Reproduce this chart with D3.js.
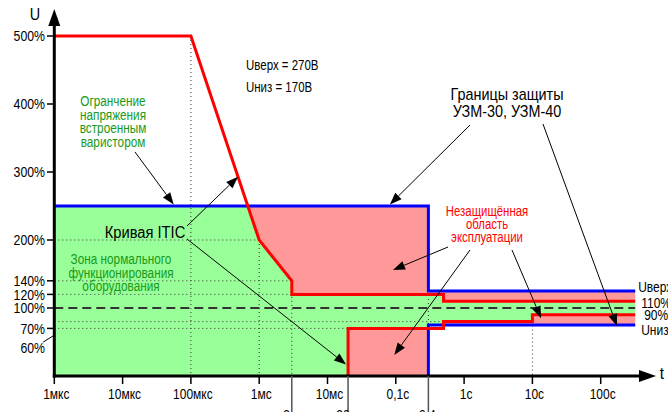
<!DOCTYPE html>
<html><head><meta charset="utf-8">
<script src="https://cdn.jsdelivr.net/npm/d3@7"></script>
<style>
body{margin:0;background:#fff}
svg{display:block}
text{font-family:"Liberation Sans","Arial",sans-serif}
</style>
</head><body>
<svg id="chart" width="668" height="412"></svg>
<script>
// ---------- data ----------
const decadeTicks  = [1e-6, 1e-5, 1e-4, 1e-3, 1e-2, 1e-1, 1, 10, 100];
const decadeLabels = ["1мкс","10мкс","100мкс","1мс","10мс","0,1с","1с","10с","100с"];
const extraTicks   = [3e-3, 0.02, 0.3];
const extraLabels  = ["3мс","20мс","0,4с"];
const yTicks       = [500, 400, 300, 200, 140, 120, 100, 70, 60];
const yLabels      = ["500%","400%","300%","200%","140%","120%","100%","70%","60%"];

const tStart = 1e-6, tEnd = 320;
// ITIC curve (time, % of nominal)
const iticUpperT = [1e-6, 1e-4, 1e-3, 3e-3, 3e-3, 0.5, 0.5, 320];
const iticUpperV = [500, 500, 200, 140, 120, 120, 110, 110];
const iticLowerT = [0.02, 0.02, 0.5, 0.5, 10, 10, 320];
const iticLowerV = [0, 70, 70, 80, 80, 90, 90];
// UZM-30 / UZM-40 protection limits
const uzmUpperT = [1e-6, 0.3, 0.3, 320];
const uzmUpperV = [250, 250, 125, 125];
const uzmLowerT = [0.3, 0.3, 320];
const uzmLowerV = [0, 75, 75];
const nominal = 100;

// ---------- setup ----------
const svg = d3.select("#chart");
const x = d3.scaleLog().domain([1e-6, 1e3]).range([54.3, 54.3 + 9 * 68.3]);
const y = d3.scaleLinear().domain([0, 500]).range([376, 36]);

const zip = (T, V) => T.map((t, i) => [t, V[i]]);
const iticUp = zip(iticUpperT, iticUpperV);
const iticLo = zip(iticLowerT, iticLowerV);
const uzmUp = zip(uzmUpperT, uzmUpperV);
const uzmLo = zip(uzmLowerT, uzmLowerV);
const line = d3.line().x(d => x(d[0])).y(d => y(d[1]));

const GREEN = "#99ff99", PINK = "#ff9999", RED = "#ff0000", BLUE = "#0000ff", DKGREEN = "#1a9a1a";

// condensed text helper
function txt(parent, tx, ty, str, size, opt = {}) {
  const t = parent.append("text")
    .attr("transform", `translate(${tx},${ty}) scale(${opt.sx || 0.8},1)`)
    .attr("font-size", size)
    .attr("text-anchor", opt.anchor || "start")
    .attr("fill", opt.color || "#000")
    .text(str);
  if (opt.dy) t.attr("dy", opt.dy);
  return t;
}

// envelopes
const uzmEnv = uzmUp.concat(uzmLo.slice().reverse(), [[tStart, 0]]);
const iticEnv = iticUp.concat(iticLo.slice().reverse(), [[tStart, 0]]);

svg.append("defs").append("clipPath").attr("id", "uzmClip")
  .append("path").attr("d", line(uzmEnv) + "Z");

svg.append("path").attr("d", line(uzmEnv) + "Z").attr("fill", PINK);
svg.append("path").attr("d", line(iticEnv) + "Z").attr("fill", GREEN)
  .attr("clip-path", "url(#uzmClip)");

// dotted reference lines
const grid = svg.append("g").attr("stroke", "#333").attr("stroke-width", 1)
  .attr("stroke-dasharray", "1,3").attr("fill", "none");
const vRefs = [[iticUpperT[1], iticUpperV[1]], [iticUpperT[2], iticUpperV[2]],
               [iticUpperT[3], iticUpperV[3]], [iticLowerT[4], iticLowerV[3]]];
vRefs.forEach(([t, v]) => grid.append("line")
  .attr("x1", x(t)).attr("x2", x(t)).attr("y1", y(v)).attr("y2", y(0)));
grid.append("line").attr("x1", x(uzmLowerT[0])).attr("x2", x(uzmLowerT[0]))
  .attr("y1", y(uzmUpperV[2])).attr("y2", y(uzmLowerV[1]));
const hRefs = [[iticUpperT[2], iticUpperV[2]], [iticUpperT[3], iticUpperV[3]],
               [iticUpperT[4], iticUpperV[4]], [iticLowerT[3], iticLowerV[3]],
               [iticLowerT[1], iticLowerV[1]]];
hRefs.forEach(([t, v]) => grid.append("line")
  .attr("x1", x(tStart)).attr("x2", x(t)).attr("y1", y(v)).attr("y2", y(v)));

// nominal dashed
svg.append("line").attr("x1", x(tStart)).attr("x2", x(tEnd))
  .attr("y1", y(nominal)).attr("y2", y(nominal))
  .attr("stroke", "#333").attr("stroke-width", 2).attr("stroke-dasharray", "9,5");

// curves
[uzmUp, uzmLo].forEach(d => svg.append("path").attr("d", line(d))
  .attr("fill", "none").attr("stroke", BLUE).attr("stroke-width", 3));
[iticUp, iticLo].forEach(d => svg.append("path").attr("d", line(d))
  .attr("fill", "none").attr("stroke", RED).attr("stroke-width", 3));

// ---------- axes ----------
const ax = svg.append("g");
const x0 = x(tStart), y0 = y(0);
ax.append("line").attr("x1", x0).attr("x2", x0).attr("y1", y0 + 1.5).attr("y2", 22)
  .attr("stroke", "#000").attr("stroke-width", 3);
ax.append("path").attr("d", `M${x0},9 L${x0 - 6},26 L${x0 + 6},26 Z`).attr("fill", "#000");
ax.append("line").attr("x1", x0 - 1.5).attr("x2", 642).attr("y1", y0).attr("y2", y0)
  .attr("stroke", "#000").attr("stroke-width", 3);
ax.append("path").attr("d", `M656,${y0} L639,${y0 - 6} L639,${y0 + 6} Z`).attr("fill", "#000");
txt(ax, 35, 20, "U", 16, {anchor: "middle", sx: 0.9});
txt(ax, 662, 379, "t", 17, {anchor: "middle", sx: 0.9});

// x ticks
decadeTicks.forEach((t, i) => {
  ax.append("line").attr("x1", x(t)).attr("x2", x(t)).attr("y1", y0).attr("y2", y0 + 8)
    .attr("stroke", "#000").attr("stroke-width", 1.5);
  txt(ax, x(t) + 2, 399, decadeLabels[i], 15, {anchor: "middle", sx: 0.8});
});
extraTicks.forEach((t, i) => {
  ax.append("line").attr("x1", x(t)).attr("x2", x(t)).attr("y1", y0).attr("y2", 412)
    .attr("stroke", "#555").attr("stroke-width", 1.5);
  txt(ax, x(t) + 2, 420, extraLabels[i], 15, {anchor: "middle", sx: 0.8});
});
// y ticks
yTicks.forEach((v, i) => {
  const last = v === 60;
  if (last) {
    ax.append("line").attr("x1", 43).attr("y1", y(v) + 7).attr("x2", x0).attr("y2", y(v))
      .attr("stroke", "#000").attr("stroke-width", 1);
  } else {
    ax.append("line").attr("x1", 47).attr("x2", x0).attr("y1", y(v)).attr("y2", y(v))
      .attr("stroke", "#000").attr("stroke-width", 1.5);
  }
  txt(ax, 45, y(v) + (last ? 12 : 0), yLabels[i], 15, {anchor: "end", dy: "0.36em", sx: 0.82});
});

// ---------- annotations ----------
const an = svg.append("g");
function arrow(x1, y1, x2, y2) {
  const a = Math.atan2(y2 - y1, x2 - x1), L = 12, W = 4.5;
  const bx = x2 - L * Math.cos(a), by = y2 - L * Math.sin(a);
  an.append("line").attr("x1", x1).attr("y1", y1).attr("x2", bx).attr("y2", by)
    .attr("stroke", "#000").attr("stroke-width", 1);
  an.append("path").attr("d",
    `M${x2},${y2} L${bx + W * Math.sin(a)},${by - W * Math.cos(a)} L${bx - W * Math.sin(a)},${by + W * Math.cos(a)} Z`)
    .attr("fill", "#000");
}
function textLines(lines, cx, by, step, size, color, sx) {
  lines.forEach((s, i) => txt(an, cx, by + i * step, s, size, {anchor: "middle", color, sx}));
}
function iticUpperAt(t) {
  const lt = Math.log10(t);
  for (let i = 0; i < iticUp.length - 1; i++) {
    const a = Math.log10(iticUp[i][0]), b = Math.log10(iticUp[i + 1][0]);
    if (lt >= a && lt <= b && b > a)
      return iticUp[i][1] + (iticUp[i + 1][1] - iticUp[i][1]) * (lt - a) / (b - a);
  }
  return iticUp[0][1];
}

txt(an, 246, 70, "Uверх = 270В", 14, {sx: 0.82});
txt(an, 246, 92, "Uниз = 170В", 14, {sx: 0.82});

textLines(["Огранчение", "напряжения", "встроенным", "варистором"], 113, 106, 13.5, 15.5, DKGREEN, 0.76);
arrow(135, 152, x(5.6e-5), y(uzmUpperV[0]) - 1.5);

txt(an, 145, 238, "Кривая ITIC", 16, {anchor: "middle", sx: 0.92});
arrow(187, 226, x(4.9e-4), y(iticUpperAt(4.9e-4)));
arrow(187, 239, x(iticLowerT[0]) - 2, y(17));

textLines(["Зона нормального", "функционирования", "оборудования"], 121, 264, 13.5, 15.5, DKGREEN, 0.76);

textLines(["Незащищённая", "область", "эксплуатации"], 487, 216, 13, 15, RED, 0.76);
arrow(448, 247, x(0.091), y(156));
arrow(470, 250, x(0.095), y(31));
arrow(512, 250, x(13.4), y(85));

textLines(["Границы защиты", "УЗМ-30, УЗМ-40"], 507, 100, 17, 16, "#000", 0.9);
arrow(470, 125, x(0.082), y(uzmUpperV[0]) - 1.5);
arrow(543, 124, x(173), y(uzmLowerV[1]) + 1);

// right end labels
const rx = x(tEnd) + 3;
txt(an, rx, y(uzmUpperV[3]) - 4, "Uверх", 15, {dy: "0.36em", sx: 0.8});
txt(an, rx + 3, y(iticUpperV[7]) + 1, "110%", 15, {dy: "0.36em", sx: 0.8});
txt(an, rx + 6, y(iticLowerV[6]), "90%", 15, {dy: "0.36em", sx: 0.8});
txt(an, rx + 3, y(uzmLowerV[2]) + 5, "Uниз", 15, {dy: "0.36em", sx: 0.8});
</script>
</body></html>
